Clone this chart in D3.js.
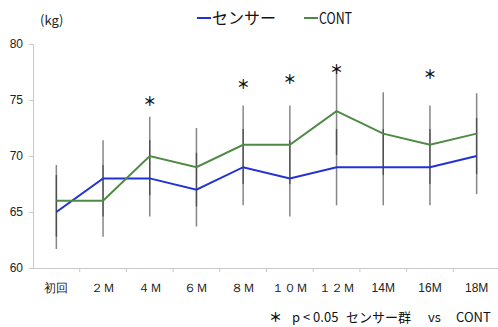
<!DOCTYPE html>
<html><head><meta charset="utf-8">
<script src="https://cdn.jsdelivr.net/npm/d3@7"></script>
<style>
body{margin:0;background:#fff;}
svg{display:block;font-family:"Noto Sans CJK JP","Noto Sans",sans-serif;}
</style></head>
<body><svg id="c" width="498" height="327"></svg>
<script>
const categories = ["初回","２Ｍ","４Ｍ","６Ｍ","８Ｍ","１０Ｍ","１２Ｍ","14M","16M","18M"];
const sensorMean = [65,68,68,67,69,68,69,69,69,70];
const sensorSD   = [3.3,3.4,3.4,3.3,3.4,3.4,3.4,3.4,3.4,3.4];
const contMean   = [66,66,70,69,71,71,74,72,71,72];
const contSD     = [3.2,3.2,3.5,3.5,3.5,3.5,3.9,3.7,3.5,3.6];
const starCats   = ["４Ｍ","８Ｍ","１０Ｍ","１２Ｍ","16M"];
const starLevels = [75.0,76.5,76.9,77.8,77.4];
const yTicks = [60,65,70,75,80];
const seriesNames = ["センサー","CONT"];

const svg = d3.select("#c");
const x = d3.scaleBand().domain(categories).range([33,500]);
const y = d3.scaleLinear().domain([60,80]).range([268,44]);
const cx = d => x(d) + x.bandwidth()/2;
const axisCol = "#c8c8c8";

// y axis
const ya = svg.append("g").attr("transform","translate(33,0)")
  .call(d3.axisLeft(y).tickValues(yTicks).tickSize(4).tickPadding(6));
ya.select(".domain").attr("stroke",axisCol);
ya.selectAll(".tick line").attr("stroke",axisCol);
ya.selectAll("text").attr("font-size",12).attr("fill","#222").attr("font-family","Liberation Sans, Arial, sans-serif");

// x axis
const xa = svg.append("g").attr("transform","translate(0,268)")
  .call(d3.axisBottom(x).tickSize(0).tickPadding(15));
xa.select(".domain").attr("stroke",axisCol);
xa.selectAll("text").attr("font-size",12).attr("fill","#222");
svg.append("g").selectAll("line").data(categories.slice(1)).join("line")
  .attr("x1",d=>x(d)).attr("x2",d=>x(d)).attr("y1",268).attr("y2",272)
  .attr("stroke",axisCol);

// error bars
const series = [
  {name:seriesNames[0], mean:sensorMean, sd:sensorSD, color:"#2131d6"},
  {name:seriesNames[1], mean:contMean, sd:contSD, color:"#4f8a45"}
];
series.forEach(s=>{
  svg.append("g").selectAll("line").data(categories).join("line")
    .attr("x1",d=>cx(d)).attr("x2",d=>cx(d))
    .attr("y1",(d,i)=>y(s.mean[i]+s.sd[i])).attr("y2",(d,i)=>y(s.mean[i]-s.sd[i]))
    .attr("stroke","#222").attr("stroke-opacity",0.55).attr("stroke-width",1.5);
});
// lines
series.forEach(s=>{
  const line = d3.line().x((d,i)=>cx(categories[i])).y(d=>y(d));
  svg.append("path").datum(s.mean).attr("d",line)
    .attr("fill","none").attr("stroke",s.color).attr("stroke-width",2);
});

// stars
svg.append("g").selectAll("text").data(starCats).join("text")
  .attr("x",d=>cx(d)).attr("y",(d,i)=>y(starLevels[i]))
  .attr("text-anchor","middle").attr("dominant-baseline","central")
  .attr("font-size",13).attr("font-weight","bold").attr("fill","#111").text("＊");

// y unit label
svg.append("text").attr("x",40).attr("y",25).attr("font-size",13).attr("fill","#222").text("(kg)");

// legend
const leg = [{x:197, s:series[0], w:null},{x:304, s:series[1], w:33}];
leg.forEach(l=>{
  svg.append("line").attr("x1",l.x).attr("x2",l.x+14).attr("y1",18).attr("y2",18)
    .attr("stroke",l.s.color).attr("stroke-width",2);
  const t = svg.append("text").attr("x",l.x+15).attr("y",24).attr("font-size",16).attr("fill","#111").text(l.s.name);
  if(l.w) t.attr("textLength",l.w).attr("lengthAdjust","spacingAndGlyphs");
});

// footnote
const fn = svg.append("text").attr("y",322).attr("font-size",13).attr("fill","#111");
fn.append("tspan").attr("x",269).attr("font-weight","bold").text("＊");
fn.append("tspan").attr("x",292).text("p < 0.05");
fn.append("tspan").attr("x",346).text("センサー群");
fn.append("tspan").attr("x",428).text("vs");
fn.append("tspan").attr("x",456).text("CONT");
</script></body></html>
